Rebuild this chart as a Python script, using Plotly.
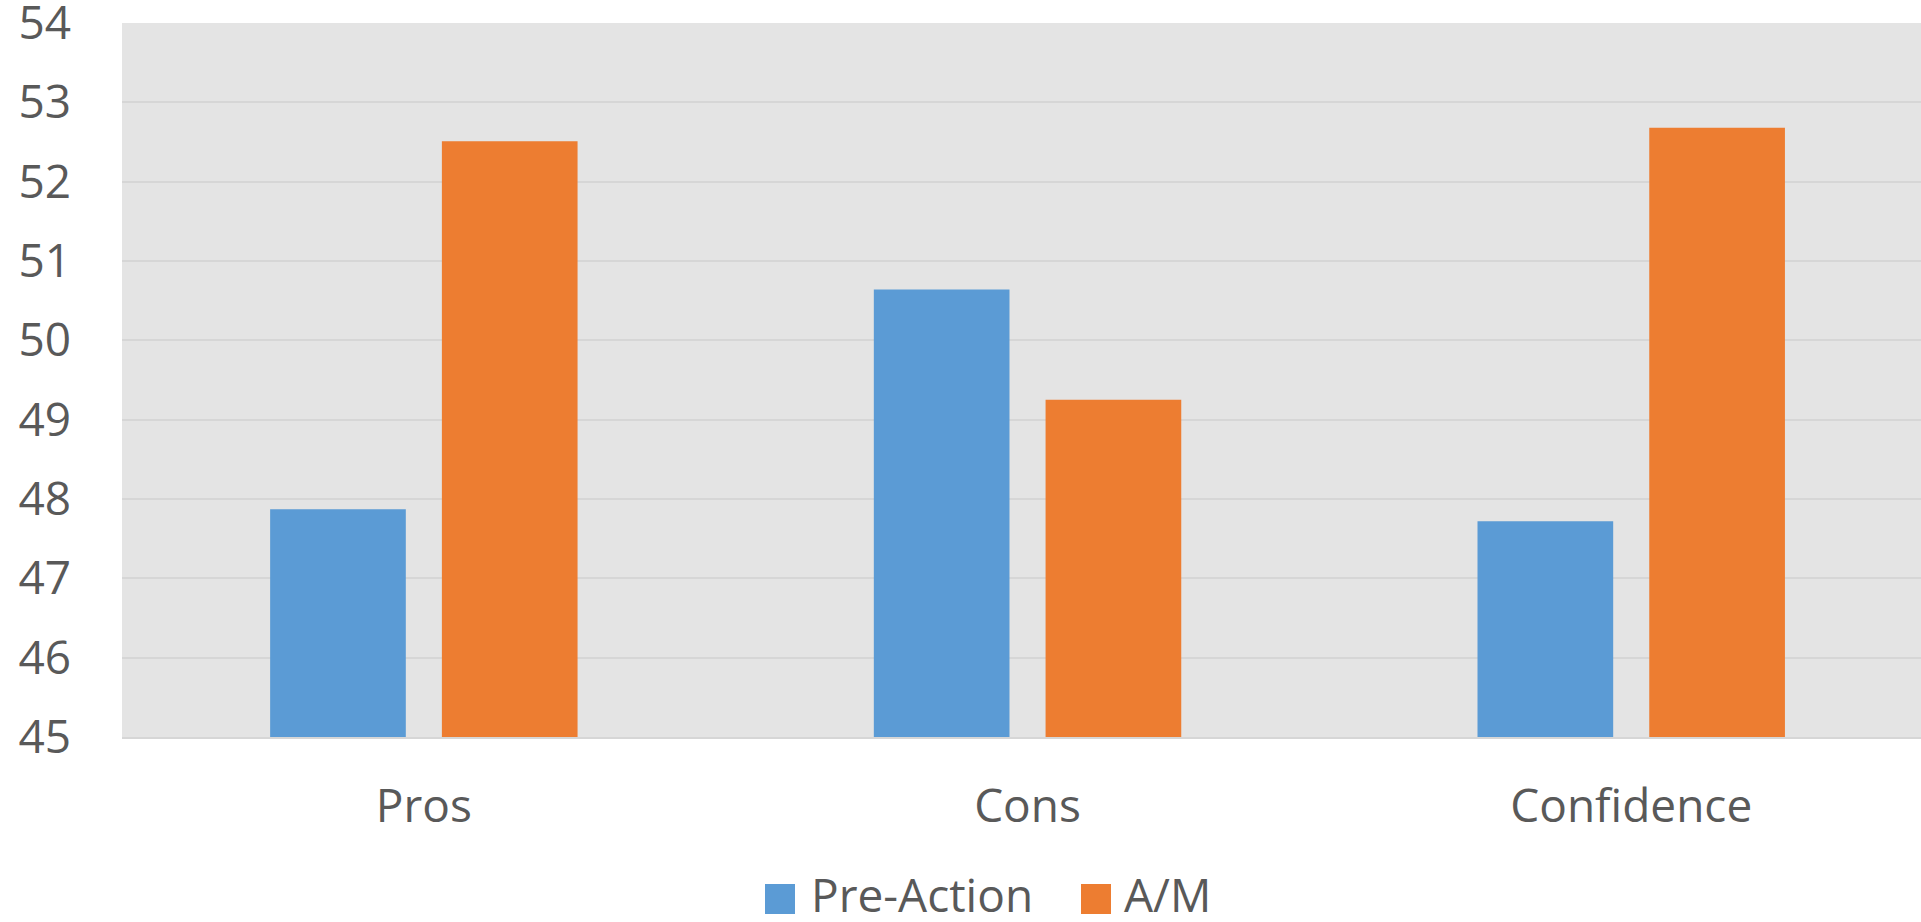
import plotly.graph_objects as go

categories = ["Pros", "Cons", "Confidence"]
pre_action = [47.87, 50.64, 47.72]
am = [52.51, 49.25, 52.68]
series_names = ["Pre-Action", "A/M"]
y_ticks = [45, 46, 47, 48, 49, 50, 51, 52, 53, 54]

BLUE = "#5B9BD5"
ORANGE = "#ED7D31"
TEXT = "#595959"
FONT = "Open Sans"
FS = 46

fig = go.Figure()
fig.add_trace(go.Bar(x=categories, y=pre_action, name=series_names[0],
                     marker=dict(color=BLUE, line=dict(width=0)), showlegend=False))
fig.add_trace(go.Bar(x=categories, y=am, name=series_names[1],
                     marker=dict(color=ORANGE, line=dict(width=0)), showlegend=False))

# custom legend (large swatches like the original)
W, H = 1921, 922
L, R, T, B = 122, 0, 23, 185
pw, ph = W - L - R, H - T - B
legend_items = [(series_names[0], BLUE, 765, 809), (series_names[1], ORANGE, 1081, 1122)]
for name, col, sx, tx in legend_items:
    xp = (sx - L) / pw
    yc = (H - B - 899) / ph
    fig.add_shape(type="rect", xref="paper", yref="paper",
                  xsizemode="pixel", ysizemode="pixel",
                  xanchor=xp, yanchor=yc, x0=0, x1=30, y0=-15, y1=15,
                  fillcolor=col, line=dict(width=0), layer="above")
    fig.add_annotation(text=name, xref="paper", yref="paper",
                       x=(tx - L) / pw, y=(H - B - 894) / ph, xanchor="left", yanchor="middle",
                       showarrow=False, font=dict(family=FONT, size=FS, color=TEXT))

fig.update_layout(
    width=W, height=H,
    margin=dict(l=L, r=R, t=T, b=B, autoexpand=False),
    paper_bgcolor="white",
    plot_bgcolor="#E4E4E4",
    barmode="group",
    bargap=0.431,
    bargroupgap=0.21,
    font=dict(family=FONT, size=FS, color=TEXT),
    showlegend=False,
)
fig.update_xaxes(range=[-0.5, 2.48], showgrid=False, showline=True, automargin=False,
                 linecolor="#D6D6D6", linewidth=2, ticks="", ticklabelstandoff=28,
                 tickfont=dict(family=FONT, size=FS, color=TEXT))
fig.update_yaxes(range=[45, 54], tickvals=y_ticks, showgrid=True, automargin=False,
                 gridcolor="#D6D6D6", gridwidth=2, zeroline=False, showline=False,
                 ticks="", ticklabelstandoff=50, ticklabeloverflow="allow",
                 tickfont=dict(family=FONT, size=FS, color=TEXT))

fig.write_html("out.html")
